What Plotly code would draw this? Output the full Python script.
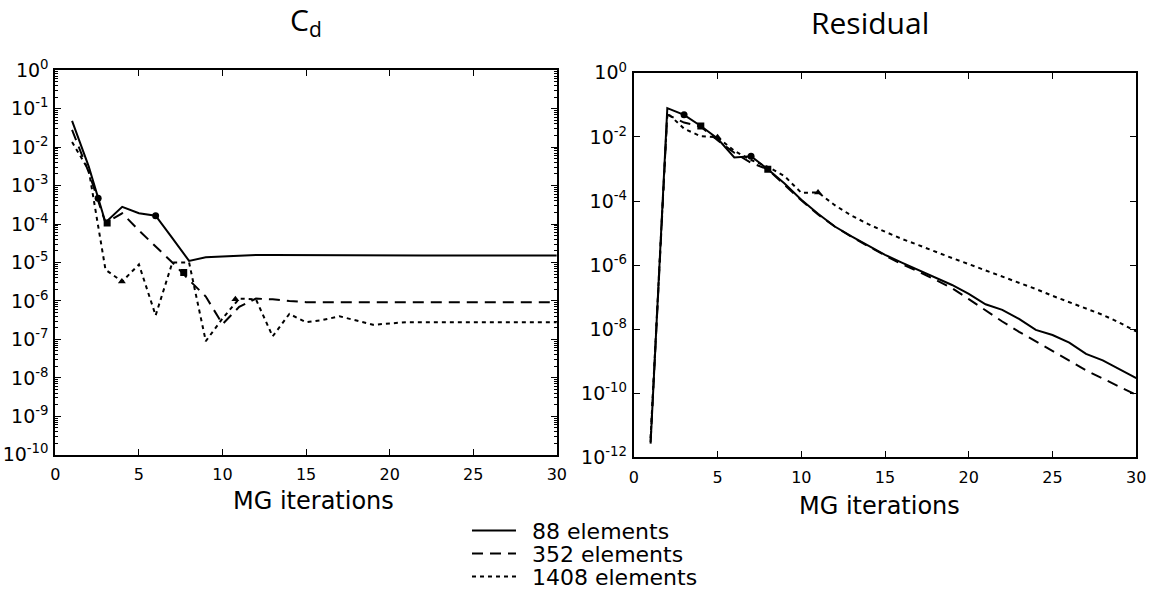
import plotly.graph_objects as go

W, H = 1167, 607

# ---------------- data ----------------
iters = list(range(1, 31))

cd_88 = [4.8e-2, 3.1e-3, 1.1e-4, 2.8e-4, 1.9e-4, 1.65e-4, 4.3e-5, 1.1e-5, 1.37e-5, 1.45e-5,
         1.5e-5, 1.57e-5, 1.56e-5, 1.55e-5, 1.54e-5, 1.54e-5, 1.54e-5, 1.53e-5, 1.53e-5, 1.53e-5,
         1.53e-5, 1.53e-5, 1.53e-5, 1.53e-5, 1.53e-5, 1.53e-5, 1.53e-5, 1.53e-5, 1.53e-5, 1.53e-5]
cd_352 = [2.8e-2, 2.2e-3, 1.07e-4, 1.9e-4, 6.8e-5, 2.6e-5, 1.0e-5, 3.5e-6, 1.3e-6, 2.5e-7,
          7.0e-7, 1.15e-6, 1.1e-6, 1.0e-6, 9.3e-7, 9.3e-7, 9.3e-7, 9.3e-7, 9.3e-7, 9.3e-7,
          9.3e-7, 9.3e-7, 9.3e-7, 9.3e-7, 9.3e-7, 9.3e-7, 9.3e-7, 9.3e-7, 9.3e-7, 9.3e-7]
cd_1408 = [1.35e-2, 2.5e-3, 6.5e-6, 3.2e-6, 8.9e-6, 4.2e-7, 1.0e-5, 1.0e-5, 9.0e-8, 3.5e-7,
           1.15e-6, 1.1e-6, 1.2e-7, 4.6e-7, 2.8e-7, 3.2e-7, 4.0e-7, 3.1e-7, 2.4e-7, 2.6e-7,
           2.8e-7, 2.8e-7, 2.8e-7, 2.8e-7, 2.8e-7, 2.8e-7, 2.8e-7, 2.8e-7, 2.8e-7, 2.8e-7]

res_88 = [2.7e-12, 7.9e-2, 4.9e-2, 2.2e-2, 8.9e-3, 2.3e-3, 2.5e-3, 9.8e-4, 3.5e-4, 1.1e-4,
          4.0e-5, 1.6e-5, 7.9e-6, 4.0e-6, 2.1e-6, 1.2e-6, 7.1e-7, 4.2e-7, 2.4e-7, 1.26e-7,
          6.0e-8, 4.0e-8, 2.1e-8, 9.5e-9, 6.6e-9, 3.8e-9, 1.7e-9, 1.07e-9, 5.6e-10, 3.0e-10]
res_352 = [3.0e-12, 5.0e-2, 2.8e-2, 2.1e-2, 7.9e-3, 3.2e-3, 1.55e-3, 9.8e-4, 3.2e-4, 1.05e-4,
           3.8e-5, 1.6e-5, 7.6e-6, 3.8e-6, 2.0e-6, 1.07e-6, 6.3e-7, 3.5e-7, 1.9e-7, 8.7e-8,
           3.8e-8, 1.74e-8, 8.3e-9, 4.1e-9, 2.0e-9, 1.05e-9, 5.2e-10, 2.9e-10, 1.6e-10, 8.9e-11]
res_1408 = [4.0e-12, 5.6e-2, 1.8e-2, 1.05e-2, 9.8e-3, 3.7e-3, 1.9e-3, 1.17e-3, 6.0e-4, 1.8e-4,
            1.86e-4, 7.4e-5, 3.5e-5, 1.9e-5, 1.1e-5, 6.6e-6, 4.2e-6, 2.6e-6, 1.66e-6, 1.07e-6,
            6.9e-7, 4.5e-7, 2.8e-7, 1.8e-7, 1.1e-7, 7.1e-8, 4.5e-8, 2.8e-8, 1.6e-8, 8.5e-9]

# marker points
cd_circ_x, cd_circ_y = [2.56, 6.0], [4.7e-4, 1.65e-4]
cd_sq_x, cd_sq_y = [3.1, 7.68], [1.07e-4, 5.5e-6]
cd_tri_x, cd_tri_y = [3.98, 10.77], [3.2e-6, 1.1e-6]
res_circ_x, res_circ_y = [3, 7], [4.9e-2, 2.5e-3]
res_sq_x, res_sq_y = [4, 8], [2.2e-2, 9.8e-4]
res_tri_x, res_tri_y = [5, 11], [9.8e-3, 1.86e-4]

series_names = ["88 elements", "352 elements", "1408 elements"]
dashes = ["solid", "11px,7px", "4px,4px"]

x_ticks = [0, 5, 10, 15, 20, 25, 30]
cd_exps = list(range(0, -11, -1))
res_exps = list(range(0, -13, -2))

# ---------------- figure ----------------
fig = go.Figure()

legend_ids = ["legend", "legend2", "legend3"]
cd_series = [cd_88, cd_352, cd_1408]
res_series = [res_88, res_352, res_1408]
for i in range(3):
    fig.add_trace(go.Scatter(x=iters, y=cd_series[i], mode="lines",
                             name="\u2002" + series_names[i],
                             legendgroup=series_names[i], showlegend=True, legend=legend_ids[i],
                             line=dict(color="black", width=2, dash=dashes[i]),
                             xaxis="x", yaxis="y"))
    fig.add_trace(go.Scatter(x=iters, y=res_series[i], mode="lines", name=series_names[i],
                             legendgroup=series_names[i], showlegend=False,
                             line=dict(color="black", width=2, dash=dashes[i]),
                             xaxis="x2", yaxis="y2"))

for (xs, ys, sym, ax, ay) in [
    (cd_circ_x, cd_circ_y, "circle", "x", "y"),
    (cd_sq_x, cd_sq_y, "square", "x", "y"),
    (cd_tri_x, cd_tri_y, "triangle-up", "x", "y"),
    (res_circ_x, res_circ_y, "circle", "x2", "y2"),
    (res_sq_x, res_sq_y, "square", "x2", "y2"),
    (res_tri_x, res_tri_y, "triangle-up", "x2", "y2"),
]:
    fig.add_trace(go.Scatter(x=xs, y=ys, mode="markers", showlegend=False,
                             marker=dict(symbol=sym, size=7, color="black"),
                             xaxis=ax, yaxis=ay))

def px_x(p):
    return p / W

def px_y(p):
    return 1 - p / H

FONT = "DejaVu Sans"
ytickfont = dict(family=FONT, size=19, color="black")
xtickfont = dict(family=FONT, size=16, color="black")

common_x = dict(range=[0, 30], tickvals=x_ticks, ticktext=[str(v) for v in x_ticks],
                ticks="inside", ticklen=6, tickwidth=1, tickcolor="black",
                showline=True, linecolor="black", linewidth=2, mirror="allticks",
                showgrid=False, zeroline=False, tickfont=xtickfont, ticklabelstandoff=4)

leg_common = dict(x=px_x(468), xanchor="left", yanchor="middle",
                  bgcolor="rgba(0,0,0,0)",
                  font=dict(family=FONT, size=22, color="black"),
                  itemwidth=44)

fig.update_layout(
    width=W, height=H,
    margin=dict(l=0, r=0, t=0, b=0),
    paper_bgcolor="white", plot_bgcolor="white",
    xaxis=dict(domain=[px_x(51), px_x(559)], anchor="y", **common_x),
    yaxis=dict(domain=[px_y(460), px_y(59.5)], anchor="x", type="log", range=[-10, 0],
               tickvals=[10.0 ** e for e in cd_exps],
               ticktext=["10<sup>%d</sup>" % e for e in cd_exps],
               ticks="inside", ticklen=6, tickwidth=1, tickcolor="black",
               minor=dict(ticks="inside", ticklen=3, tickcolor="black", dtick="D1"),
               showline=True, linecolor="black", linewidth=2, mirror="allticks",
               showgrid=False, zeroline=False, tickfont=ytickfont, ticklabelstandoff=1),
    xaxis2=dict(domain=[px_x(637), px_x(1146)], anchor="y2", **common_x),
    yaxis2=dict(domain=[px_y(462.7), px_y(62.3)], anchor="x2", type="log", range=[-12, 0],
                tickvals=[10.0 ** e for e in res_exps],
                ticktext=["10<sup>%d</sup>" % e for e in res_exps],
                ticks="inside", ticklen=6, tickwidth=1, tickcolor="black",
                showline=True, linecolor="black", linewidth=2, mirror="allticks",
                showgrid=False, zeroline=False, tickfont=ytickfont, ticklabelstandoff=1),
    legend=dict(y=px_y(539), **leg_common),
    legend2=dict(y=px_y(563), **leg_common),
    legend3=dict(y=px_y(587), **leg_common),
    showlegend=True,
)

annots = [
    dict(text="C<sub>d</sub>", x=px_x(305), y=px_y(8), font=dict(family="Open Sans", size=30)),
    dict(text="Residual", x=px_x(876), y=px_y(10), font=dict(family="Open Sans", size=30)),
    dict(text="MG iterations", x=px_x(313), y=px_y(508), font=dict(family=FONT, size=24)),
    dict(text="MG iterations", x=px_x(886), y=px_y(513), font=dict(family=FONT, size=24)),
]
for a in annots:
    a["font"]["color"] = "black"
    fig.add_annotation(xref="paper", yref="paper", showarrow=False,
                       xanchor="center", yanchor="middle", **a)

fig.write_html("out.html")
